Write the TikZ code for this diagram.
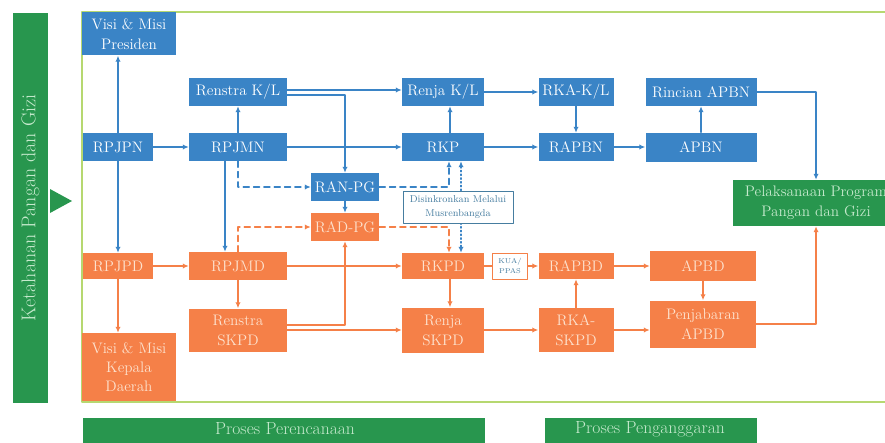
\documentclass[tikz,border=0pt]{standalone}
\usepackage{tikz}
\usetikzlibrary{arrows.meta}
\definecolor{pgblue}{RGB}{58,132,198}
\definecolor{pgorange}{RGB}{245,128,72}
\definecolor{pggreen}{RGB}{40,150,78}
\definecolor{pgframe}{RGB}{182,216,112}
\definecolor{pgpeach}{RGB}{253,226,206}
\definecolor{pgpale}{RGB}{198,234,205}
\definecolor{pgteal}{RGB}{70,125,160}
\tikzset{>={Latex[length=1.8mm,width=1.6mm]}}
\tikzset{
  wh/.style 2 args={minimum width=#1*0.3mm, minimum height=#2*0.3mm},
  nasional/.style={fill=pgblue, text=white, align=center, inner sep=0pt, font=\fontsize{13}{17}\selectfont},
  daerah/.style={fill=pgorange, text=pgpeach, align=center, inner sep=0pt, font=\fontsize{13}{17}\selectfont},
  pelaksana/.style={fill=pggreen, text=pgpale, align=center, inner sep=0pt, font=\fontsize{13}{17}\selectfont},
  sinkron/.style={draw=pgteal, fill=white, text=pgteal, align=center, inner sep=0pt, line width=0.8pt, font=\fontsize{8.5}{12}\selectfont},
  kecil/.style={draw=pgorange, fill=white, text=pgteal, align=center, inner sep=0pt, line width=0.8pt, font=\fontsize{6}{8}\selectfont},
  bline/.style={draw=pgblue, line width=1.2pt, ->},
  oline/.style={draw=pgorange, line width=1.2pt, ->},
  putus/.style={dash pattern=on 1.8mm off 1.3mm},
}
\begin{document}
\begin{tikzpicture}[x=0.3mm, y=-0.3mm, line cap=round, line join=round]
\useasboundingbox (0,0) rectangle (885,442);

\node[pelaksana, rotate=90, wh={390}{35}, font=\fontsize{17}{19}\selectfont] (judul) at (30.5,208) {Ketahanan Pangan dan Gizi};
\fill[pggreen] (50,189) -- (72,201) -- (50,213) -- cycle;
\draw[pgframe, line width=1.2pt] (82,12) rectangle (900,402);

\fill[pggreen] (83,418) rectangle (485,450);
\fill[pggreen] (545,418) rectangle (757,450);
\node[text=pgpale, font=\fontsize{15}{17}\selectfont] (perencanaan) at (285,429) {Proses Perencanaan};
\node[text=pgpale, font=\fontsize{15}{17}\selectfont] (penganggaran) at (650,429) {Proses Penganggaran};

\node[nasional, wh={94}{43}] (visipres) at (129,34) {Visi \& Misi\\Presiden};
\node[nasional, wh={70}{28}] (rpjpn) at (118,147) {RPJPN};
\node[nasional, wh={98}{28}] (renstrakl) at (238,92) {Renstra K/L};
\node[nasional, wh={98}{28}] (rpjmn) at (238,147) {RPJMN};
\node[nasional, wh={68}{28}] (ranpg) at (345,187) {RAN-PG};
\node[nasional, wh={82}{28}] (renjakl) at (443,92) {Renja K/L};
\node[nasional, wh={82}{28}] (rkp) at (443,147) {RKP};
\node[nasional, wh={75}{28}] (rkakl) at (576,92) {RKA-K/L};
\node[nasional, wh={75}{28}] (rapbn) at (576,147) {RAPBN};
\node[nasional, wh={111}{28}] (rincian) at (701,92) {Rincian APBN};
\node[nasional, wh={111}{29}] (apbn) at (701,147) {APBN};
\node[pelaksana, wh={166}{46}] (pelaks) at (816,203) {Pelaksanaan Program\\Pangan dan Gizi};

\node[daerah, wh={70}{26}] (rpjpd) at (118,266) {RPJPD};
\node[daerah, wh={98}{28}] (rpjmd) at (238,266) {RPJMD};
\node[daerah, wh={68}{28}] (radpg) at (345,227) {RAD-PG};
\node[daerah, wh={98}{43}] (renstraskpd) at (238,330) {Renstra\\SKPD};
\node[daerah, wh={94}{68}, font=\fontsize{13}{16}\selectfont] (visikd) at (129,367) {Visi \& Misi\\Kepala\\Daerah};
\node[daerah, wh={82}{26}] (rkpd) at (443,266) {RKPD};
\node[kecil, wh={35}{26}] (kua) at (510,266) {KUA/\\PPAS};
\node[daerah, wh={75}{26}] (rapbd) at (576,266) {RAPBD};
\node[daerah, wh={106}{30}] (apbd) at (703,266) {APBD};
\node[daerah, wh={82}{45}] (renjaskpd) at (443,330) {Renja\\SKPD};
\node[daerah, wh={75}{44}] (rkaskpd) at (576,330) {RKA-\\SKPD};
\node[daerah, wh={106}{47}] (penjab) at (703,324) {Penjabaran\\APBD};

\draw[bline] (rpjpn) -- (rpjpn |- visipres.south);
\draw[bline] (rpjpn) -- (rpjmn);
\draw[bline] (rpjpn) -- (rpjpd);
\draw[bline] (rpjmn) -- (renstrakl);
\draw[bline] ([xshift=-3.9mm]rpjmn.south) -- ([xshift=-3.9mm]rpjmd.north);
\draw[bline, putus] (rpjmn.south) |- (ranpg);
\draw[bline] (rpjmn) -- (rkp);
\draw[bline] ([yshift=0.6mm]renstrakl.east) -- ([yshift=0.6mm]renjakl.west);
\draw[bline] ([yshift=-0.9mm]renstrakl.east) -| (ranpg);
\draw[bline] ([xshift=2.1mm]rkp.north) -- ([xshift=2.1mm]renjakl.south);
\draw[bline] (renjakl) -- (rkakl);
\draw[bline] (rkp) -- (rapbn);
\draw[bline] (rkakl) -- (rapbn);
\draw[bline] (rapbn) -- (apbn);
\draw[bline] (apbn) -- (rincian);
\draw[bline] (rincian) -| (pelaks);
\draw[bline] (ranpg) -- (radpg);
\draw[bline, putus] (ranpg) -| ([xshift=1.8mm]rkp.south);
\draw[bline, dotted, <->] ([xshift=5.4mm]rkp.south) -- ([xshift=5.4mm]rkpd.north);

\node[sinkron, wh={110}{32}] (musren) at (458,207) {Disinkronkan Melalui\\Musrenbangda};

\draw[oline] (rpjpd) -- (rpjmd);
\draw[oline] (rpjpd) -- (rpjpd |- visikd.north);
\draw[oline] (rpjmd) -- (renstraskpd);
\draw[oline] (rpjmd) -- (rkpd);
\draw[oline, putus] (rpjmd.north) |- (radpg);
\draw[oline, putus] (radpg) -| ([xshift=1.8mm]rkpd.north);
\draw[oline] ([xshift=2.1mm]rkpd.south) -- ([xshift=2.1mm]renjaskpd.north);
\draw[oline] ([yshift=1.5mm]renstraskpd.east) -| (radpg);
\draw[oline] (renstraskpd) -- (renjaskpd);
\draw[oline, -] (rkpd) -- (kua);
\draw[oline] (kua) -- (rapbd);
\draw[oline] (renjaskpd) -- (rkaskpd);
\draw[oline] (rkaskpd) -- (rapbd);
\draw[oline] (rapbd) -- (apbd);
\draw[oline] (apbd) -- (penjab);
\draw[oline] (rkaskpd) -- (rkaskpd -| penjab.west);
\draw[oline] (penjab) -| (pelaks);

\end{tikzpicture}
\end{document}
